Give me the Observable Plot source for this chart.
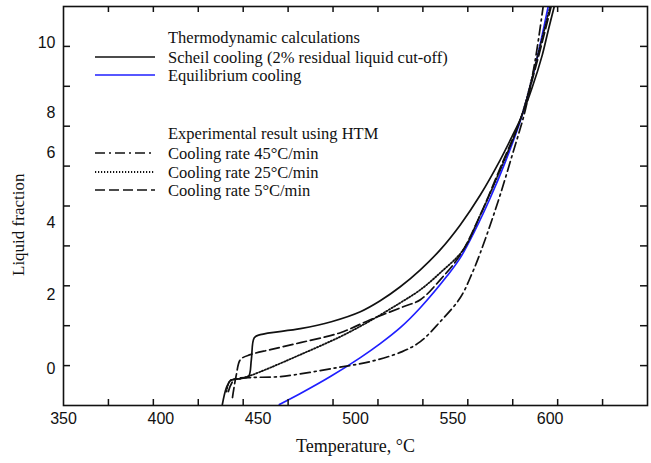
<!DOCTYPE html>
<html><head><meta charset="utf-8">
<script src="https://cdn.jsdelivr.net/npm/d3@7"></script>
<script src="https://cdn.jsdelivr.net/npm/@observablehq/plot@0.6"></script>
<style>body{margin:0;background:#fff}</style>
</head><body><div id="chart"></div>
<script>
// Temperature (°C) and liquid fraction (axis tick units, as drawn)
const scheilT = [431.6,433.7,435.7,440.9,445.0,446.5,448.0,451.1,471.7,487.6,502.5,512.7,523.0,533.3,543.5,553.8,564.1,574.3,580.5,585.1,590.8,595.9,599.0,602.1];
const scheilF = [-0.975,-0.55,-0.375,-0.325,-0.275,0.15,0.7,0.775,0.925,1.1,1.35,1.625,1.975,2.4,2.9,3.525,4.275,5.15,5.75,6.225,6.975,7.775,8.4,9.0];
const equilT = [460.9,471.7,487.1,502.5,512.7,523.0,533.3,547.1,553.8,561.5,569.2,576.9,585.1,592.3,599.0];
const equilF = [-0.975,-0.7,-0.275,0.2,0.55,0.95,1.45,2.25,2.7,3.4,4.2,5.1,6.2,7.5,9.0];
const r45T = [434.7,437.8,446.0,461.4,490.7,507.6,524.0,533.3,543.5,553.8,560.0,564.1,569.2,574.3,580.5,587.2,592.3,596.4];
const r45F = [-0.65,-0.35,-0.3,-0.275,-0.05,0.1,0.35,0.6,1.1,1.7,2.325,2.825,3.525,4.275,5.275,6.4,7.65,9.0];
const r25T = [433.7,435.7,440.9,446.0,456.3,471.7,492.2,507.6,523.0,533.3,543.5,555.3,564.1,574.3,585.1,592.3,600.0];
const r25F = [-0.65,-0.375,-0.325,-0.25,-0.05,0.275,0.725,1.125,1.575,1.9,2.325,2.9,3.775,4.9,6.225,7.525,9.0];
const r5T = [436.8,438.8,440.9,446.0,456.3,471.7,492.2,507.6,524.5,533.3,543.5,553.8,564.1,574.3,585.1,592.8,600.5];
const r5F = [-0.8,-0.225,0.15,0.275,0.4,0.575,0.825,1.15,1.475,1.65,2.15,2.775,3.775,4.95,6.225,7.525,9.0];

const xTickLabels = [350, 400, 450, 500, 550, 600];
const yTickLabels = ["0", "2", "4", "6", "8", "10"];
const yTickLabelAt = [-0.075, 1.775, 3.575, 5.325, 6.325, 8.1];

const legendHeads = ["Thermodynamic calculations", "Experimental result using HTM"];
const legendNames = ["Scheil cooling (2% residual liquid cut-off)", "Equilibrium cooling",
  "Cooling rate 45°C/min", "Cooling rate 25°C/min", "Cooling rate 5°C/min"];

const styles = [
  {stroke: "#111", strokeWidth: 1.7, dash: null},
  {stroke: "#1f1fff", strokeWidth: 1.7, dash: null},
  {stroke: "#111", strokeWidth: 1.7, dash: "10,4,2,4"},
  {stroke: "#111", strokeWidth: 1.8, dash: "1.2,1.8"},
  {stroke: "#111", strokeWidth: 1.7, dash: "10,4"}
];
const seriesT = [scheilT, equilT, r45T, r25T, r5T];
const seriesF = [scheilF, equilF, r45F, r25F, r5F];
const rows = seriesT.map((T, i) => T.map((t, j) => ({t, f: seriesF[i][j], s: i}))).flat();

const W = 651, H = 463, mL = 63, mR = 4, mT = 6, mB = 58;
const plotW = W - mL - mR, plotH = H - mT - mB;
const xTicks = d3.range(1, 13).map(k => 350 + k * 300 / 13);
const yTicks = d3.range(0, 9);

const lineMarks = styles.map((st, i) => Plot.line(rows.filter(d => d.s === i), {
  x: "t", y: "f", stroke: st.stroke, strokeWidth: st.strokeWidth,
  strokeDasharray: st.dash, curve: "catmull-rom", clip: true
}));

function legend(index, scales, values, dims) {
  const g = d3.create("svg:g").attr("font-family", "Liberation Serif, serif").attr("font-size", 16.5)
    .attr("fill", "#111").attr("text-anchor", "start");
  const x0 = 95, x1 = 155, tx = 168;
  const items = [
    {text: legendHeads[0], y: 37},
    {text: legendNames[0], y: 57, s: 0},
    {text: legendNames[1], y: 75, s: 1},
    {text: legendHeads[1], y: 133},
    {text: legendNames[2], y: 153, s: 2},
    {text: legendNames[3], y: 172, s: 3},
    {text: legendNames[4], y: 190, s: 4}
  ];
  for (const it of items) {
    g.append("text").attr("x", tx).attr("y", it.y).attr("dy", "0.35em").text(it.text);
    if (it.s !== undefined) {
      const st = styles[it.s];
      g.append("line").attr("x1", x0).attr("x2", x1).attr("y1", it.y).attr("y2", it.y)
        .attr("stroke", st.stroke).attr("stroke-width", st.strokeWidth)
        .attr("stroke-dasharray", st.dash);
    }
  }
  return g.node();
}

const chart = Plot.plot({
  width: W, height: H, marginLeft: mL, marginRight: mR, marginTop: mT, marginBottom: mB,
  x: {domain: [350, 650], axis: null},
  y: {domain: [-1, 9], axis: null},
  style: {fontFamily: "Liberation Sans, sans-serif", background: "#fff", color: "#111"},
  marks: [
    ...lineMarks,
    Plot.tickX(xTicks, {x: d => d, insetTop: plotH - 6, stroke: "#111", strokeWidth: 1.5}),
    Plot.tickX(xTicks, {x: d => d, insetBottom: plotH - 6, stroke: "#111", strokeWidth: 1.5}),
    Plot.tickY(yTicks, {y: d => d, insetRight: plotW - 7, stroke: "#111", strokeWidth: 1.5}),
    Plot.tickY(yTicks, {y: d => d, insetLeft: plotW - 7, stroke: "#111", strokeWidth: 1.5}),
    Plot.frame({stroke: "#111", strokeWidth: 1.6}),
    Plot.text(xTickLabels, {x: d => d, frameAnchor: "bottom", dy: 18, text: d => String(d), fontSize: 16, fill: "#111"}),
    Plot.text(yTickLabels, {y: (d, i) => yTickLabelAt[i], frameAnchor: "left", dx: -8, textAnchor: "end", text: d => d, fontSize: 16, fill: "#111"}),
    Plot.text(["Temperature, °C"], {frameAnchor: "bottom", dy: 46, fontSize: 18, fontFamily: "Liberation Serif, serif", fill: "#111"}),
    Plot.text(["Liquid fraction"], {frameAnchor: "left", dx: -45, dy: 70, rotate: -90, fontSize: 17, fontFamily: "Liberation Serif, serif", fill: "#111"}),
    legend
  ]
});
document.getElementById("chart").appendChild(chart);
</script>
</body></html>
